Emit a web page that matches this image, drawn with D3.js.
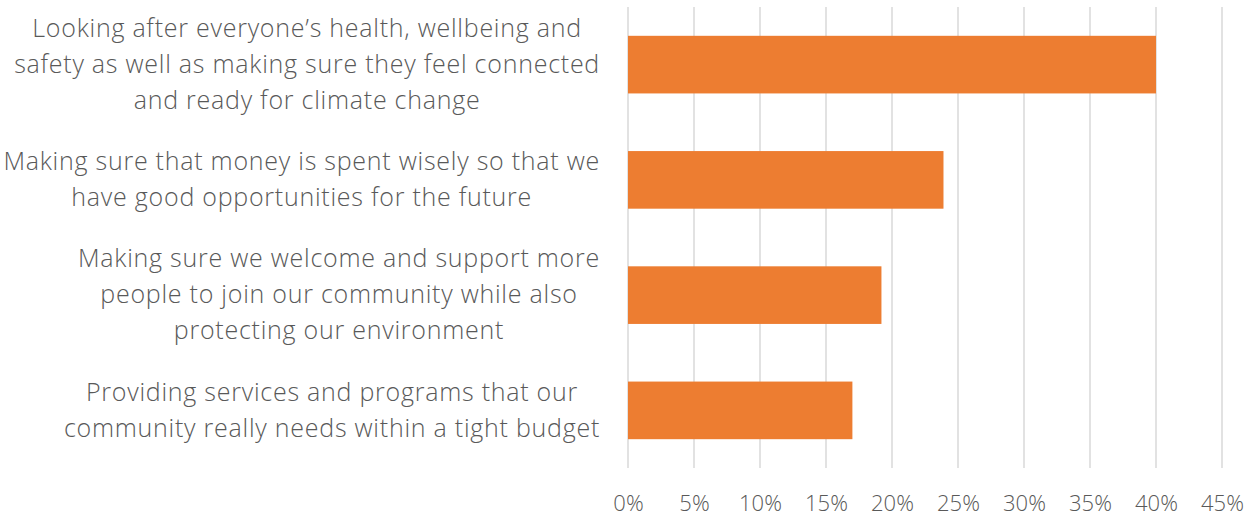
<!DOCTYPE html>
<html><head><meta charset="utf-8">
<script src="https://cdn.jsdelivr.net/npm/d3@7"></script>
<style>body{margin:0;background:#fff;} svg{display:block;}</style>
</head><body>
<svg id="chart" width="1257" height="518"></svg>
<script>
const categories = [
  "Looking after everyone’s health, wellbeing and\nsafety as well as making sure they feel connected\nand ready for climate change",
  "Making sure that money is spent wisely so that we\nhave good opportunities for the future",
  "Making sure we welcome and support more\npeople to join our community while also\nprotecting our environment",
  "Providing services and programs that our\ncommunity really needs within a tight budget"
];
const values = [0.40, 0.239, 0.192, 0.170];
const tickValues = [0, 0.05, 0.10, 0.15, 0.20, 0.25, 0.30, 0.35, 0.40, 0.45];
const tickLabels = ["0%","5%","10%","15%","20%","25%","30%","35%","40%","45%"];

const FONT = "'Open Sans', sans-serif";
const svg = d3.select("#chart");
const plotLeft = 628, plotRight = 1222, plotTop = 7, plotBottom = 468;
const x = d3.scaleLinear().domain([0, 0.45]).range([plotLeft, plotRight]);
const y = d3.scaleBand().domain(categories).range([plotTop, plotBottom]).paddingInner(0.5).paddingOuter(0.25);

// gridlines
svg.append("g").selectAll("line").data(tickValues).join("line")
  .attr("x1", d => x(d)).attr("x2", d => x(d))
  .attr("y1", plotTop).attr("y2", plotBottom)
  .attr("stroke", "#d9d9d9").attr("stroke-width", 1.5);

// bars
svg.append("g").selectAll("rect").data(values).join("rect")
  .attr("x", x(0)).attr("y", (d, i) => y(categories[i]))
  .attr("width", d => x(d) - x(0)).attr("height", y.bandwidth())
  .attr("fill", "#ed7d31");

// x axis labels
const xAxis = d3.axisBottom(x).tickValues(tickValues).tickFormat((d, i) => tickLabels[i]).tickSize(0).tickPadding(0);
const gx = svg.append("g").attr("transform", `translate(0,511)`).call(xAxis);
gx.select(".domain").remove();
gx.selectAll("text").attr("font-family", FONT).attr("font-weight", 300)
  .attr("font-size", 22).attr("fill", "#595959").attr("y", 0).attr("dy", 0);

// category labels
const lineH = 36;
const lg = svg.append("g");
categories.forEach((c, i) => {
  const lines = c.split("\n");
  const cy = y(c) + y.bandwidth() / 2;
  const t = lg.append("text").attr("font-family", FONT).attr("font-weight", 300)
    .attr("font-size", 25).attr("letter-spacing", 0.75).attr("fill", "#595959").attr("text-anchor", "middle");
  lines.forEach((ln, j) => {
    t.append("tspan").attr("y", cy + (j - (lines.length - 1) / 2) * lineH).attr("dy", "0.33em").text(ln);
  });
  let maxW = 0;
  t.selectAll("tspan").each(function(){ maxW = Math.max(maxW, this.getComputedTextLength()); });
  t.selectAll("tspan").attr("x", 600 - maxW / 2);
});
</script>
</body></html>
